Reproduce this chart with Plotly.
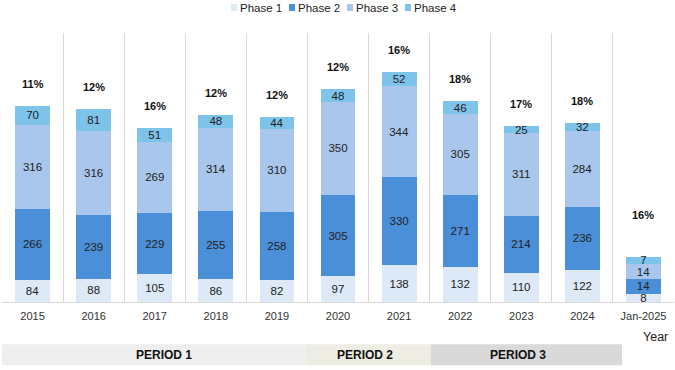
import plotly.graph_objects as go

years = ["2015", "2016", "2017", "2018", "2019", "2020", "2021", "2022", "2023", "2024"]
phase1 = [84, 88, 105, 86, 82, 97, 138, 132, 110, 122]
phase2 = [266, 239, 229, 255, 258, 305, 330, 271, 214, 236]
phase3 = [316, 316, 269, 314, 310, 350, 344, 305, 311, 284]
phase4 = [70, 81, 51, 48, 44, 48, 52, 46, 25, 32]
pct_labels = ["11%", "12%", "16%", "12%", "12%", "12%", "16%", "18%", "17%", "18%"]

jan_cat = "Jan-2025"
jan_values = [8, 14, 14, 7]
jan_pct = "16%"

periods = ["PERIOD 1", "PERIOD 2", "PERIOD 3"]

names = ["Phase 1", "Phase 2", "Phase 3", "Phase 4"]
colors = ["#DDE9F6", "#4A8FD8", "#A9C7EC", "#7DC3EA"]
series = [phase1, phase2, phase3, phase4]
cats = years + [jan_cat]

FONT = "Liberation Sans, Arial"
fig = go.Figure()
for nm, col, vals in zip(names, colors, series):
    fig.add_trace(go.Bar(
        x=years, y=vals, name=nm, marker=dict(color=col, line=dict(width=0)),
        text=[str(v) for v in vals], textposition="inside", insidetextanchor="middle",
        textangle=0, textfont=dict(family=FONT, size=11.5, color="#222222"),
        constraintext="none", yaxis="y", showlegend=False))
for nm, col, v in zip(names, colors, jan_values):
    fig.add_trace(go.Bar(
        x=[jan_cat], y=[v], name=nm, showlegend=False,
        marker=dict(color=col, line=dict(width=0)),
        text=[str(v)], textposition="inside", insidetextanchor="middle",
        textangle=0, textfont=dict(family=FONT, size=11.5, color="#222222"),
        constraintext="none", yaxis="y2"))

totals = [sum(t) for t in zip(*series)]
for i, (tot, lab) in enumerate(zip(totals, pct_labels)):
    fig.add_annotation(x=i, xref="x", y=tot, yref="y", text="<b>" + lab + "</b>", showarrow=False,
                       yshift=22, font=dict(family=FONT, size=11, color="#111111"))
fig.add_annotation(x=len(years), xref="x", y=sum(jan_values), yref="y2", text="<b>" + jan_pct + "</b>",
                   showarrow=False, yshift=42,
                   font=dict(family=FONT, size=11, color="#111111"))

# period bands
bounds = [(-0.5, 4.47), (4.47, 6.52), (6.52, 9.65)]
label_x = [2.15, 5.45, 7.95]
band_cols = ["#EEEEEE", "#EEEDE3", "#D9D9D9"]
for (x0, x1), lx, bc, lab in zip(bounds, label_x, band_cols, periods):
    fig.add_shape(type="rect", xref="x", yref="paper", x0=x0, x1=x1, y0=-0.235, y1=-0.157,
                  fillcolor=bc, line=dict(width=0), layer="below")
    fig.add_annotation(x=lx, xref="x", y=-0.198, yref="paper", text="<b>" + lab + "</b>",
                       xanchor="center", yanchor="middle",
                       showarrow=False, font=dict(family=FONT, size=12, color="#111111"))

# axis title
fig.add_annotation(x=(655 - 2) / 672, xref="paper", y=(302 - 337) / 269, yref="paper", text="Year",
                   xanchor="center", yanchor="middle",
                   showarrow=False, font=dict(family=FONT, size=12.5, color="#222222"))

# legend (drawn manually for compact spacing)
leg_x = [231, 289, 347, 405]
for lx, nm, col in zip(leg_x, names, colors):
    fig.add_shape(type="rect", xref="paper", yref="paper",
                  x0=(lx - 2) / 672, x1=(lx + 6 - 2) / 672,
                  y0=(302 - 11) / 269, y1=(302 - 4) / 269,
                  fillcolor=col, line=dict(width=0))
    fig.add_annotation(x=(lx + 7 - 2) / 672, xref="paper", y=(302 - 7.5) / 269, yref="paper",
                       text=nm, showarrow=False, xanchor="left", yanchor="middle",
                       font=dict(family=FONT, size=11.5, color="#222222"))

fig.update_layout(
    width=675, height=370,
    margin=dict(l=2, r=1, t=33, b=68),
    barmode="stack", bargap=0.43,
    plot_bgcolor="white", paper_bgcolor="white",
    uniformtext=dict(minsize=10, mode="show"),
    showlegend=False,
    xaxis=dict(type="category", categoryorder="array", categoryarray=cats, range=[-0.5, 10.5],
               showgrid=True, gridcolor="#D9D9D9", tickson="boundaries", ticks="",
               showline=True, linecolor="#D9D9D9", linewidth=1, automargin=False,
               ticklabelstandoff=4,
               tickfont=dict(family=FONT, size=11, color="#333333")),
    yaxis=dict(range=[0, 1011], visible=False, showgrid=False, automargin=False),
    yaxis2=dict(range=[0, 256], visible=False, showgrid=False, overlaying="y", automargin=False),
)

fig.write_html("out.html", config={"displayModeBar": False},
               post_script="document.body.style.margin='0px';")
